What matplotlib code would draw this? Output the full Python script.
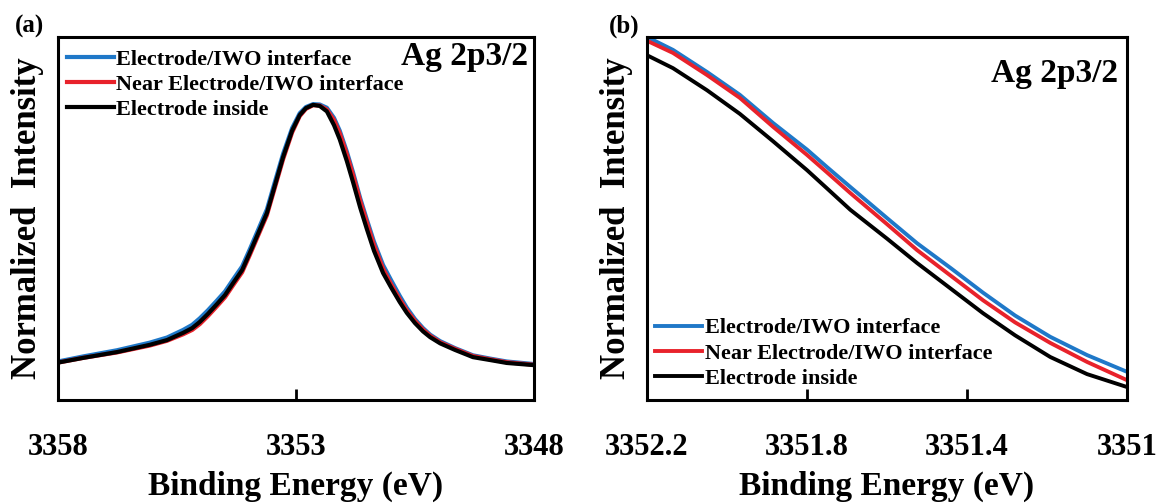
import numpy as np
import matplotlib
matplotlib.use("Agg")
import matplotlib.pyplot as plt

plt.rcParams['font.family'] = ['Liberation Serif', 'DejaVu Serif']
plt.rcParams['font.weight'] = 'bold'

# ---- data ----
labels = ['Electrode/IWO interface', 'Near Electrode/IWO interface', 'Electrode inside']
colors = ['#1f78c8', '#e8222b', '#000000']

# panel (a): full Ag 2p3/2 peak
energy_a = [3358.00, 3357.47, 3356.76, 3356.07, 3355.71, 3355.37, 3355.18, 3355.02,
            3354.85, 3354.66, 3354.49, 3354.32, 3354.13, 3353.97, 3353.80, 3353.61,
            3353.44, 3353.27, 3353.08, 3352.92, 3352.79, 3352.64, 3352.50, 3352.35,
            3352.20, 3352.08, 3351.93, 3351.80, 3351.65, 3351.51, 3351.36, 3351.17,
            3351.00, 3350.82, 3350.67, 3350.50, 3350.33, 3350.18, 3349.97, 3349.66,
            3349.28, 3348.92, 3348.57, 3348.00]
blue_a = [0.106, 0.120, 0.137, 0.158, 0.172, 0.193, 0.207, 0.225,
          0.247, 0.274, 0.299, 0.332, 0.368, 0.415, 0.467, 0.525,
          0.602, 0.678, 0.749, 0.790, 0.807, 0.815, 0.814, 0.805,
          0.777, 0.742, 0.684, 0.627, 0.556, 0.497, 0.436, 0.372,
          0.330, 0.287, 0.254, 0.223, 0.198, 0.180, 0.162, 0.143,
          0.123, 0.114, 0.106, 0.099]
red_a = [0.103, 0.116, 0.131, 0.150, 0.163, 0.181, 0.193, 0.209,
         0.231, 0.258, 0.283, 0.316, 0.352, 0.399, 0.451, 0.509,
         0.586, 0.663, 0.737, 0.782, 0.802, 0.812, 0.811, 0.800,
         0.771, 0.735, 0.677, 0.620, 0.549, 0.489, 0.427, 0.362,
         0.319, 0.278, 0.247, 0.218, 0.194, 0.177, 0.159, 0.141,
         0.121, 0.112, 0.104, 0.097]
black_a = [0.103, 0.116, 0.132, 0.152, 0.165, 0.185, 0.198, 0.215,
           0.237, 0.264, 0.289, 0.322, 0.358, 0.405, 0.457, 0.515,
           0.592, 0.669, 0.742, 0.785, 0.804, 0.813, 0.810, 0.795,
           0.757, 0.718, 0.658, 0.600, 0.530, 0.471, 0.411, 0.350,
           0.310, 0.270, 0.240, 0.212, 0.189, 0.173, 0.156, 0.138,
           0.118, 0.110, 0.102, 0.096]

# panel (b): zoom on the high-energy side of the peak
energy_b = [3352.200, 3352.135, 3352.050, 3351.968, 3351.885, 3351.800, 3351.750,
            3351.692, 3351.600, 3351.525, 3351.440, 3351.360, 3351.280, 3351.192,
            3351.100, 3351.000]
blue_b = [0.774, 0.757, 0.728, 0.698, 0.661, 0.626, 0.603,
          0.577, 0.536, 0.503, 0.470, 0.438, 0.408, 0.380, 0.356, 0.334]
red_b = [0.769, 0.753, 0.724, 0.694, 0.656, 0.619, 0.596,
         0.569, 0.528, 0.494, 0.460, 0.428, 0.399, 0.372, 0.347, 0.323]
black_b = [0.750, 0.733, 0.704, 0.673, 0.637, 0.599, 0.575,
           0.547, 0.509, 0.477, 0.443, 0.411, 0.382, 0.3535, 0.331, 0.314]

ticks_a = [3358, 3353, 3348]
ticks_b = [3352.2, 3351.8, 3351.4, 3351]
ticklabels_b = ['3352.2', '3351.8', '3351.4', '3351']

fig = plt.figure(figsize=(11.66, 5.03), dpi=100)
ax1 = fig.add_axes([0.0497, 0.2048, 0.4082, 0.7217])
ax2 = fig.add_axes([0.5549, 0.2048, 0.4117, 0.7217])


def style(ax):
    for s in ax.spines.values():
        s.set_linewidth(2.2)
    ax.set_yticks([])
    ax.tick_params(axis='x', direction='in', length=8, width=2, pad=24, labelsize=22)
    ax.set_xlabel('Binding Energy (eV)', fontsize=24, fontweight='bold', labelpad=6)
    ax.set_ylabel('Normalized  Intensity', fontsize=25, fontweight='bold', labelpad=10)


# (a)
for y, c, lab in zip([blue_a, red_a, black_a], colors, labels):
    ax1.plot(energy_a, y, color=c, lw=3, label=lab, solid_joinstyle='round')
ax1.set_xlim(3358, 3348)
ax1.set_ylim(0, 1)
ax1.set_xticks(ticks_a)
ax1.set_xticklabels([str(t) for t in ticks_a])
style(ax1)
ax1.text(0.987, 0.923, 'Ag 2p3/2', transform=ax1.transAxes, ha='right', va='baseline',
         fontsize=24, fontweight='bold')
ax1.legend(loc='upper left', bbox_to_anchor=(0.019, 0.967), frameon=False, fontsize=16,
           handlelength=2.1, handletextpad=0.12, labelspacing=0.21, borderpad=0, borderaxespad=0)

# (b)
for y, c, lab in zip([blue_b, red_b, black_b], colors, labels):
    ax2.plot(energy_b, y, color=c, lw=2.8, label=lab, solid_joinstyle='round')
ax2.set_xlim(3352.2, 3351)
ax2.set_ylim(0.297, 0.774)
ax2.set_xticks(ticks_b)
ax2.set_xticklabels(ticklabels_b)
style(ax2)
ax2.text(0.981, 0.876, 'Ag 2p3/2', transform=ax2.transAxes, ha='right', va='baseline',
         fontsize=24, fontweight='bold')
ax2.legend(loc='lower left', bbox_to_anchor=(0.017, 0.031), frameon=False, fontsize=16,
           handlelength=2.1, handletextpad=0.12, labelspacing=0.21, borderpad=0, borderaxespad=0)

fig.text(29 / 1166, 1 - 33 / 503, '(a)', ha='center', va='baseline', fontsize=18, fontweight='bold')
fig.text(624 / 1166, 1 - 33 / 503, '(b)', ha='center', va='baseline', fontsize=18, fontweight='bold')

fig.savefig('out.png', dpi=100)
